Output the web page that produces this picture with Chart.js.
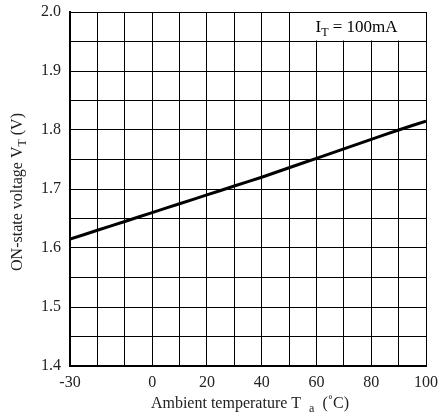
<!DOCTYPE html>
<html>
<head>
<meta charset="utf-8">
<script src="https://cdn.jsdelivr.net/npm/chart.js@4"></script>
<style>
  html, body { margin: 0; padding: 0; background: #fff; }
  #wrap { width: 438px; height: 420px; }
</style>
</head>
<body>
<div id="wrap"><canvas id="vt-chart"></canvas></div>
<script>
// temperature (°C) and ON-state voltage (V)
const temps = [-30, -20, -10, 0, 10, 20, 30, 40, 50, 60, 70, 80, 90, 100];
const volts = [1.615, 1.63, 1.645, 1.66, 1.675, 1.69, 1.705, 1.72, 1.736, 1.752, 1.768, 1.784, 1.8, 1.815];
const xLabels = [-30, 0, 20, 40, 60, 80, 100];
const yLabels = [1.4, 1.5, 1.6, 1.7, 1.8, 1.9, 2.0];
const condition = 'I|T| = 100mA';

const serif = '"Liberation Serif", "DejaVu Serif", serif';

// draws text with parts between bars as subscript, centred on cx
function drawSub(ctx, text, cx, cy, size) {
    const parts = text.split('|');
    const big = size + 'px ' + serif;
    const small = Math.round(size * 0.72) + 'px ' + serif;
    let w = 0;
    parts.forEach((p, i) => {
        ctx.font = i % 2 ? small : big;
        w += ctx.measureText(p).width;
    });
    let x = cx - w / 2;
    ctx.textAlign = 'left';
    ctx.textBaseline = 'middle';
    parts.forEach((p, i) => {
        ctx.font = i % 2 ? small : big;
        ctx.fillText(p, x, i % 2 ? cy + size * 0.28 : cy);
        x += ctx.measureText(p).width;
    });
}

const extras = {
    id: 'extras',
    beforeDatasetsDraw(chart) {
        const { ctx, scales: { x, y } } = chart;
        const l = x.getPixelForValue(50), r = x.getPixelForValue(100);
        const t = y.getPixelForValue(2.0), b = y.getPixelForValue(1.95);
        ctx.save();
        ctx.fillStyle = '#fff';
        ctx.fillRect(l + 1, t + 1, r - l - 2, b - t - 2);
        ctx.fillStyle = '#000';
        drawSub(ctx, condition, (l + r) / 2 - 1, (t + b) / 2 + 1, 17);
        ctx.restore();
    },
    afterDraw(chart) {
        const { ctx, chartArea: a } = chart;
        ctx.save();
        ctx.fillStyle = '#222';
        drawSub(ctx, 'Ambient temperature T  |a|  (˚C)', (a.left + a.right) / 2 + 2, 404, 16);
        ctx.translate(18, 192);
        ctx.rotate(-Math.PI / 2);
        drawSub(ctx, 'ON-state voltage V|T| (V)', 0, 0, 16);
        ctx.restore();
    }
};

const edgeWidth = ctx => (ctx.index === 0 ? 2 : 1);

new Chart(document.querySelector('#vt-chart').getContext('2d'), {
    type: 'line',
    data: {
        datasets: [{
            data: temps.map((t, i) => ({ x: t, y: volts[i] })),
            borderColor: '#000',
            borderWidth: 3,
            pointRadius: 0,
            tension: 0.3
        }]
    },
    options: {
        responsive: true,
        maintainAspectRatio: false,
        animation: false,
        layout: { padding: { top: 12, right: 12, left: 0, bottom: 0 } },
        plugins: { legend: { display: false }, tooltip: { enabled: false } },
        scales: {
            x: {
                type: 'linear',
                min: -30,
                max: 100,
                afterFit: s => { s.height = 54; s.paddingLeft = 0; s.paddingRight = 0; },
                afterBuildTicks: s => { s.ticks = temps.map(v => ({ value: v })); },
                border: { color: '#000', width: 2 },
                grid: { color: '#000', lineWidth: edgeWidth, drawTicks: false },
                ticks: {
                    padding: 7,
                    color: '#222',
                    maxRotation: 0,
                    autoSkip: false,
                    font: { family: serif, size: 16 },
                    callback: v => (xLabels.includes(v) ? (v < 0 ? '-' + Math.abs(v) : String(v)) : '')
                }
            },
            y: {
                min: 1.4,
                max: 2.0,
                afterFit: s => { s.width = 70; s.paddingTop = 0; s.paddingBottom = 0; },
                afterBuildTicks: s => {
                    const ticks = [];
                    for (let i = 0; i <= 12; i++) ticks.push({ value: Math.round((1.4 + i * 0.05) * 100) / 100 });
                    s.ticks = ticks;
                },
                border: { color: '#000', width: 2 },
                grid: { color: '#000', lineWidth: edgeWidth, drawTicks: false },
                ticks: {
                    padding: 9,
                    color: '#222',
                    autoSkip: false,
                    font: { family: serif, size: 16 },
                    callback: v => (yLabels.some(l => Math.abs(l - v) < 1e-6) ? v.toFixed(1) : '')
                }
            }
        }
    },
    plugins: [extras]
});
</script>
</body>
</html>
